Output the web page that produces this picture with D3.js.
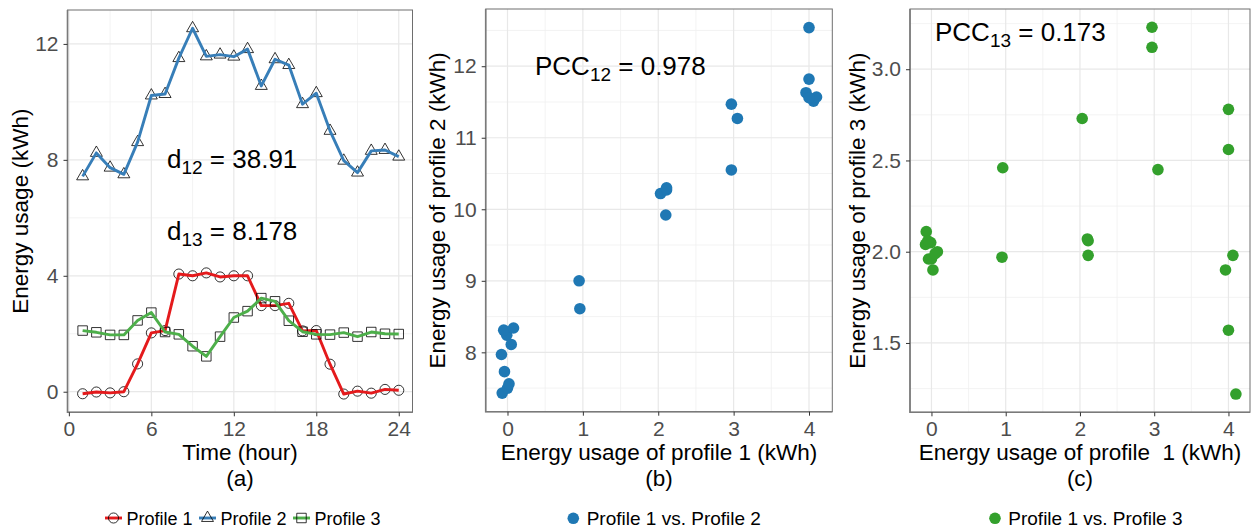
<!DOCTYPE html>
<html lang="en">
<head>
<meta charset="UTF-8">
<title>Energy usage profiles</title>
<script src="https://d3js.org/d3.v7.min.js"></script>
<style>
    body { margin: 0; background: #fff; }
    text { font-family: "Liberation Sans", Arial, sans-serif; }
    .tick text { fill: #4d4d4d; font-size: 21px; }
    .tick line { stroke: #333; }
    .domain { display: none; }
</style>
</head>
<body>
<div id="chart"></div>
<script>
// hourly values
const hours = [1, 2, 3, 4, 5, 6, 7, 8, 9, 10, 11, 12, 13, 14, 15, 16, 17, 18, 19, 20, 21, 22, 23, 24];
const profile1 = [-0.07, -0.01, -0.04, 0.00, 0.96, 2.03, 2.11, 4.06, 4.00, 4.10, 3.96, 4.00,
                  4.00, 2.97, 2.97, 3.05, 2.10, 2.11, 0.95, -0.08, 0.02, -0.05, 0.08, 0.05];
const profile2 = [7.43, 8.24, 7.73, 7.50, 8.61, 10.22, 10.27, 11.51, 12.54, 11.57, 11.63, 11.56,
                  11.82, 10.55, 11.47, 11.27, 9.92, 10.30, 9.00, 7.97, 7.56, 8.31, 8.34, 8.11];
const profile3 = [2.11, 2.05, 1.96, 1.96, 2.46, 2.73, 2.06, 1.98, 1.57, 1.22, 1.90, 2.56,
                  2.78, 3.23, 3.12, 2.45, 2.07, 1.98, 1.97, 2.04, 1.90, 2.06, 2.00, 1.99];

const profileNames = ["Profile 1", "Profile 2", "Profile 3"];
const lineColors = ["#e41a1c", "#377eb8", "#4daf4a"];

// tick labels
const hourTicks = [0, 6, 12, 18, 24];
const usageTicks = [0, 4, 8, 12];
const p1Ticks = [0, 1, 2, 3, 4];
const p2Ticks = [8, 9, 10, 11, 12];
const p3Ticks = [1.5, 2.0, 2.5, 3.0];

const svg = d3.select("#chart").append("svg")
    .attr("width", 1251)
    .attr("height", 531);

// draws background grid, border and axes of one panel, returns scales
function makePanel(p) {
    const x = d3.scaleLinear().domain(p.xDomain).range([p.left, p.right]);
    const y = d3.scaleLinear().domain(p.yDomain).range([p.bottom, p.top]);
    const g = svg.append("g");

    const mid = t => t.slice(1).map((v, i) => (v + t[i]) / 2);
    const xMinor = mid(p.xTicks).concat([p.xTicks[0] - (p.xTicks[1] - p.xTicks[0]) / 2,
        p.xTicks[p.xTicks.length - 1] + (p.xTicks[1] - p.xTicks[0]) / 2])
        .filter(v => v > p.xDomain[0] && v < p.xDomain[1]);
    const yMinor = mid(p.yTicks).concat([p.yTicks[0] - (p.yTicks[1] - p.yTicks[0]) / 2,
        p.yTicks[p.yTicks.length - 1] + (p.yTicks[1] - p.yTicks[0]) / 2])
        .filter(v => v > p.yDomain[0] && v < p.yDomain[1]);

    g.selectAll(".xminor").data(xMinor).enter().append("line")
        .attr("x1", d => x(d)).attr("x2", d => x(d))
        .attr("y1", p.top).attr("y2", p.bottom)
        .attr("stroke", "#f0f0f0").attr("stroke-width", 0.8);
    g.selectAll(".yminor").data(yMinor).enter().append("line")
        .attr("y1", d => y(d)).attr("y2", d => y(d))
        .attr("x1", p.left).attr("x2", p.right)
        .attr("stroke", "#f0f0f0").attr("stroke-width", 0.8);
    g.selectAll(".xmajor").data(p.xTicks).enter().append("line")
        .attr("x1", d => x(d)).attr("x2", d => x(d))
        .attr("y1", p.top).attr("y2", p.bottom)
        .attr("stroke", "#e8e8e8").attr("stroke-width", 1.2);
    g.selectAll(".ymajor").data(p.yTicks).enter().append("line")
        .attr("y1", d => y(d)).attr("y2", d => y(d))
        .attr("x1", p.left).attr("x2", p.right)
        .attr("stroke", "#e8e8e8").attr("stroke-width", 1.2);

    const xAxis = d3.axisBottom(x).tickValues(p.xTicks).tickSize(4).tickPadding(5)
        .tickFormat(p.xFormat || d3.format("d"));
    const yAxis = d3.axisLeft(y).tickValues(p.yTicks).tickSize(4).tickPadding(5)
        .tickFormat(p.yFormat || d3.format("d"));
    svg.append("g").attr("transform", `translate(0,${p.bottom})`).call(xAxis);
    svg.append("g").attr("transform", `translate(${p.left},0)`).call(yAxis);

    // titles
    svg.append("text")
        .attr("x", (p.left + p.right) / 2).attr("y", 460)
        .attr("text-anchor", "middle").attr("font-size", 22.5)
        .style("white-space", "pre")
        .text(p.xTitle);
    svg.append("text")
        .attr("x", (p.left + p.right) / 2).attr("y", 486)
        .attr("text-anchor", "middle").attr("font-size", 22.5)
        .text(p.label);
    svg.append("text")
        .attr("transform", `translate(${p.yTitleX},${(p.top + p.bottom) / 2}) rotate(-90)`)
        .attr("text-anchor", "middle").attr("font-size", 22.5)
        .text(p.yTitle);

    return { g, x, y, p };
}

function drawBorder(panel) {
    const p = panel.p;
    panel.g.append("rect")
        .attr("x", p.left).attr("y", p.top)
        .attr("width", p.right - p.left).attr("height", p.bottom - p.top)
        .attr("fill", "none").attr("stroke", "#6e6e6e").attr("stroke-width", 1);
    panel.g.append("path")
        .attr("d", `M${p.left},${p.top}V${p.bottom}H${p.right}`)
        .attr("fill", "none").attr("stroke", "#7a7a7a").attr("stroke-width", 1.6);
}

// annotation like  d_12 = 38.91
function annotate(x, y, main, sub, rest) {
    const t = svg.append("text").attr("x", x).attr("y", y).attr("font-size", 26).attr("fill", "#000");
    t.append("tspan").text(main);
    t.append("tspan").attr("font-size", 19).attr("dy", 6).text(sub);
    t.append("tspan").attr("dy", -6).style("white-space", "pre").text(" = " + rest);
}

// ---------- panel (a) ----------
const pa = makePanel({
    left: 67.5, right: 412.5, top: 10, bottom: 412.3,
    xDomain: [-0.1, 25.0], yDomain: [-0.71, 13.17],
    xTicks: hourTicks, yTicks: usageTicks,
    xTitle: "Time (hour)", yTitle: "Energy usage (kWh)", label: "(a)", yTitleX: 28
});

const series = [profile1, profile2, profile3];
const shapes = [d3.symbolCircle, d3.symbolTriangle, d3.symbolSquare];
const shapeSizes = [80, 62, 90];

series.forEach((vals, k) => {
    const pts = hours.map((h, i) => [h, vals[i]]);
    pa.g.selectAll(".pt" + k).data(pts).enter().append("path")
        .attr("d", d3.symbol().type(shapes[k]).size(shapeSizes[k]))
        .attr("transform", d => `translate(${pa.x(d[0])},${pa.y(d[1])})`)
        .attr("fill", "none").attr("stroke", "#000").attr("stroke-width", 0.8);
    pa.g.append("path")
        .datum(pts)
        .attr("d", d3.line().x(d => pa.x(d[0])).y(d => pa.y(d[1])))
        .attr("fill", "none").attr("stroke", lineColors[k]).attr("stroke-width", 2.9)
        .attr("stroke-linejoin", "round");
});
drawBorder(pa);

annotate(167, 168, "d", "12", "38.91");
annotate(167, 240, "d", "13", "8.178");

// legend (a)
const legendX = [105, 199, 293];
profileNames.forEach((name, k) => {
    const lg = svg.append("g").attr("transform", `translate(${legendX[k]},518)`);
    lg.append("line").attr("x1", 0).attr("x2", 17).attr("stroke", lineColors[k]).attr("stroke-width", 2.9);
    lg.append("path")
        .attr("d", d3.symbol().type(shapes[k]).size(shapeSizes[k]))
        .attr("transform", "translate(8.5,0)")
        .attr("fill", "none").attr("stroke", "#000").attr("stroke-width", 0.8);
    lg.append("text").attr("x", 21.5).attr("y", 6.5).attr("font-size", 18).text(name);
});

// ---------- panel (b) ----------
const pb = makePanel({
    left: 485.7, right: 832.3, top: 9, bottom: 411.7,
    xDomain: [-0.289, 4.309], yDomain: [7.17, 12.80],
    xTicks: p1Ticks, yTicks: p2Ticks,
    xTitle: "Energy usage of profile 1 (kWh)", yTitle: "Energy usage of profile 2 (kWh)",
    label: "(b)", yTitleX: 445
});
pb.g.selectAll(".dot").data(hours.map((h, i) => [profile1[i], profile2[i]])).enter()
    .append("circle")
    .attr("cx", d => pb.x(d[0])).attr("cy", d => pb.y(d[1])).attr("r", 5.8)
    .attr("fill", "#1f78b4");
drawBorder(pb);
annotate(535, 75, "PCC", "12", "0.978");

svg.append("circle").attr("cx", 573.3).attr("cy", 518.3).attr("r", 5.8).attr("fill", "#1f78b4");
svg.append("text").attr("x", 586.7).attr("y", 524.8).attr("font-size", 19).text("Profile 1 vs. Profile 2");

// ---------- panel (c) ----------
const pc = makePanel({
    left: 910, right: 1250, top: 9, bottom: 412.3,
    xDomain: [-0.289, 4.29], yDomain: [1.12, 3.33],
    xTicks: p1Ticks, yTicks: p3Ticks, yFormat: d3.format(".1f"),
    xTitle: "Energy usage of profile  1 (kWh)", yTitle: "Energy usage of profile 3 (kWh)",
    label: "(c)", yTitleX: 865
});
pc.g.selectAll(".dot").data(hours.map((h, i) => [profile1[i], profile3[i]])).enter()
    .append("circle")
    .attr("cx", d => pc.x(d[0])).attr("cy", d => pc.y(d[1])).attr("r", 5.8)
    .attr("fill", "#33a02c");
drawBorder(pc);
annotate(935, 41, "PCC", "13", "0.173");

svg.append("circle").attr("cx", 995).attr("cy", 518.3).attr("r", 5.8).attr("fill", "#33a02c");
svg.append("text").attr("x", 1008.3).attr("y", 524.8).attr("font-size", 19).text("Profile 1 vs. Profile 3");
</script>
</body>
</html>
